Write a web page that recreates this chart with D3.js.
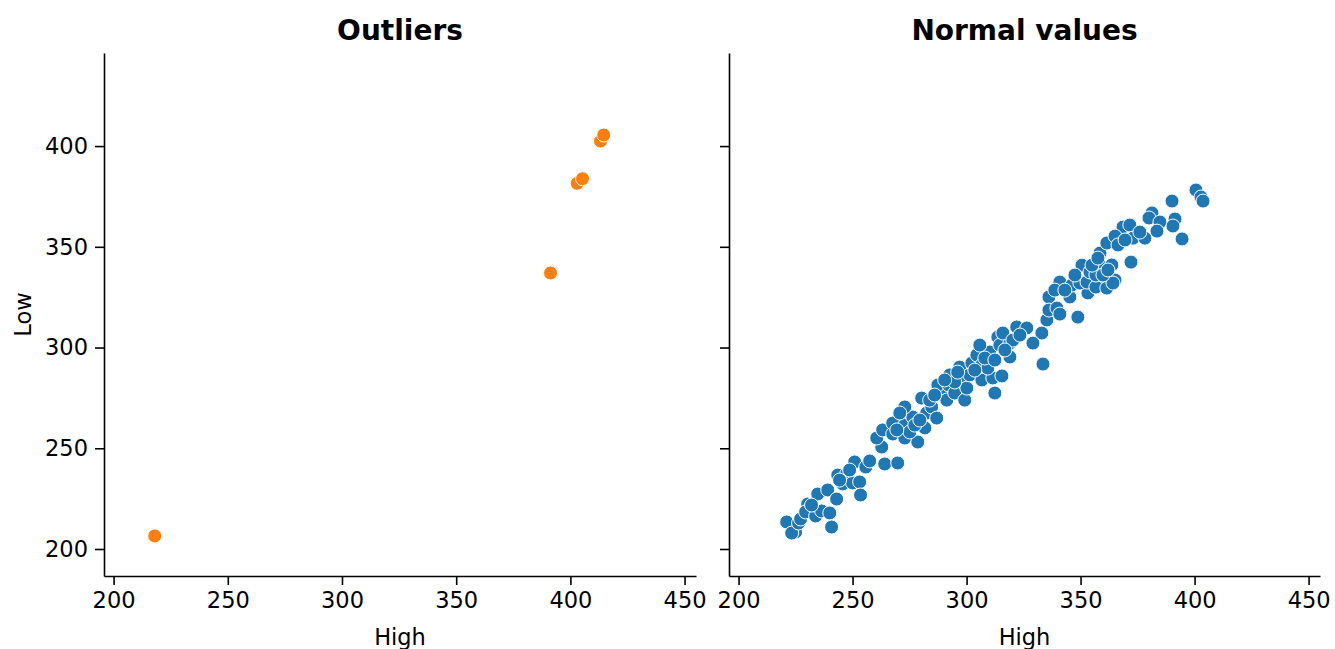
<!DOCTYPE html>
<html>
<head>
<meta charset="utf-8">
<script src="https://cdn.jsdelivr.net/npm/d3@7"></script>
<style>
  body { margin: 0; background: #fff; }
  svg { display: block; }
  text { font-family: "DejaVu Sans", sans-serif; fill: #000; }
</style>
</head>
<body>
<div id="chart"></div>
<script>
// outlier rows (High, Low)
var outHigh = [218.0, 391.3, 403.0, 405.3, 413.2, 414.6]
var outLow  = [206.5, 337.0, 381.5, 383.8, 402.5, 405.5]

// normal rows (High, Low)
var normHigh = [221.1, 225.0, 223.3, 226.3, 227.2, 230.3, 229.4, 233.8, 236.4, 240.0,
  240.8, 234.7, 239.1, 243.0, 243.5, 247.4, 245.7, 250.0, 253.1, 253.5,
  250.9, 255.8, 257.5, 262.8, 264.1, 269.8, 260.6, 263.2, 267.6, 267.6,
  272.9, 278.6, 272.9, 276.4, 272.9, 270.7, 281.7, 282.5, 284.7, 280.3,
  283.8, 286.9, 289.1, 287.4, 291.3, 292.6, 292.2, 297.0, 298.3, 294.8,
  299.2, 300.1, 294.8, 301.4, 306.7, 302.3, 304.5, 306.7, 311.5, 315.5,
  310.2, 305.8, 313.7, 314.6, 319.0, 319.0, 315.9, 320.3, 312.4, 322.0,
  326.4, 333.0, 329.1, 333.5, 335.2, 336.1, 309.3, 336.1, 339.6, 340.9,
  338.7, 345.3, 346.2, 348.8, 353.2, 350.6, 349.7, 352.8, 354.1, 358.5,
  359.4, 359.4, 363.7, 365.1, 361.5, 365.9, 367.3, 368.6, 356.7, 361.5,
  372.1, 340.9, 356.7, 364.2, 365.1, 366.4, 371.6, 373.0, 378.2, 381.3,
  380.0, 384.8, 383.5, 391.4, 390.5, 394.5, 390.1, 400.6, 402.8, 403.7,
  359.8, 275.1, 277.3, 269.4, 279.5, 286.0, 290.4, 296.1, 303.6, 308.0,
  312.4, 316.8, 323.4, 343.1, 347.5, 355.0, 357.6, 362.0, 369.5, 376.0,
  244.3, 248.7, 232.0]
var normLow = [213.4, 208.4, 207.9, 212.9, 214.9, 222.3, 218.4, 216.4, 218.9, 217.9,
  210.9, 227.3, 229.3, 224.8, 236.7, 237.2, 232.3, 232.8, 233.3, 226.8,
  243.2, 240.7, 243.7, 250.6, 242.2, 242.7, 255.1, 259.1, 257.1, 262.5,
  255.1, 253.1, 261.5, 265.5, 270.5, 267.5, 260.1, 267.5, 270.5, 274.9,
  273.9, 265.0, 277.9, 281.4, 273.9, 286.4, 281.4, 290.3, 283.9, 277.4,
  273.9, 279.9, 282.9, 286.4, 283.9, 292.3, 296.3, 291.3, 284.9, 285.9,
  297.8, 301.2, 305.2, 301.2, 295.3, 302.2, 307.2, 303.7, 277.4, 310.2,
  309.7, 307.2, 302.2, 291.8, 313.7, 325.1, 289.8, 318.6, 319.6, 332.5,
  328.5, 325.1, 331.0, 315.1, 327.1, 340.9, 332.0, 332.5, 337.5, 346.9,
  340.0, 333.5, 341.0, 333.5, 351.9, 355.8, 351.9, 359.8, 330.0, 329.5,
  342.4, 316.6, 336.0, 332.0, 355.3, 350.9, 360.8, 354.3, 354.3, 366.8,
  364.3, 362.3, 357.8, 363.8, 360.3, 353.9, 372.7, 378.2, 374.7, 372.7,
  336.0, 258.1, 261.5, 259.1, 264.0, 276.4, 283.9, 287.8, 288.8, 294.8,
  293.8, 298.8, 306.2, 328.5, 336.0, 340.9, 344.4, 338.5, 353.4, 357.3,
  234.2, 239.2, 221.8]

var xTicks = [200, 250, 300, 350, 400, 450]
var yTicks = [200, 250, 300, 350, 400]

var width = 1335, height = 649
var plotTop = 53, plotBottom = 576
var panels = [
  {title: "Outliers", left: 104, right: 696, xs: outHigh, ys: outLow, color: "#ff7f0e", ylab: true},
  {title: "Normal values", left: 729, right: 1320, xs: normHigh, ys: normLow, color: "#1f77b4", ylab: false}
]

var svg = d3.select("#chart").append("svg")
  .attr("width", width)
  .attr("height", height)

var y = d3.scaleLinear().domain([186.6, 446.2]).range([plotBottom, plotTop])

panels.forEach(function(p) {
  var x = d3.scaleLinear().domain([195.8, 455]).range([p.left, p.right])
  var g = svg.append("g")

  g.append("g")
    .attr("transform", "translate(0," + plotBottom + ")")
    .call(d3.axisBottom(x).tickValues(xTicks).tickSize(9).tickPadding(7).tickSizeOuter(0))
  g.append("g")
    .attr("transform", "translate(" + p.left + ",0)")
    .call(d3.axisLeft(y).tickValues(yTicks).tickSize(9).tickPadding(7).tickSizeOuter(0)
      .tickFormat(p.ylab ? d3.format("d") : function() { return "" }))

  g.selectAll(".domain, .tick line").attr("stroke", "#000").attr("stroke-width", 1.6)
  g.selectAll(".tick text").attr("font-size", 22.5).attr("font-family", "DejaVu Sans").attr("fill", "#000")

  g.selectAll("circle.pt")
    .data(d3.range(p.xs.length))
    .join("circle")
    .attr("class", "pt")
    .attr("cx", function(i) { return x(p.xs[i]) })
    .attr("cy", function(i) { return y(p.ys[i]) })
    .attr("r", 7)
    .attr("fill", p.color)
    .attr("stroke", "#fff")
    .attr("stroke-width", 1)

  g.append("text")
    .attr("x", (p.left + p.right) / 2)
    .attr("y", 40)
    .attr("text-anchor", "middle")
    .attr("font-size", 28)
    .attr("font-weight", "bold")
    .text(p.title)

  g.append("text")
    .attr("x", (p.left + p.right) / 2)
    .attr("y", 645)
    .attr("text-anchor", "middle")
    .attr("font-size", 22.5)
    .text("High")
})

svg.append("text")
  .attr("transform", "translate(31," + (plotTop + plotBottom) / 2 + ") rotate(-90)")
  .attr("text-anchor", "middle")
  .attr("font-size", 22.5)
  .text("Low")
</script>
</body>
</html>
